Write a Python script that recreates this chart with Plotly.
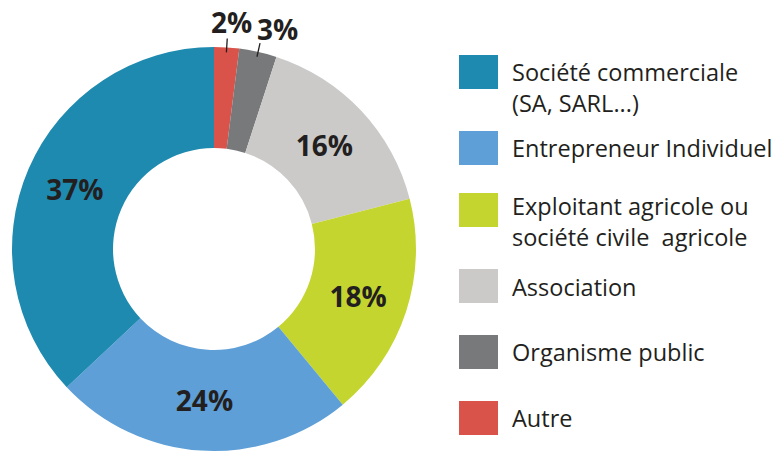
import math
import plotly.graph_objects as go

labels = ["Société commerciale<br>(SA, SARL...)", "Entrepreneur Individuel",
          "Exploitant agricole ou<br>société civile  agricole", "Association",
          "Organisme public", "Autre"]
values = [37, 24, 18, 16, 3, 2]
colors = ["#1f8aaf", "#5d9fd6", "#c5d52f", "#cbcac9", "#78797b", "#d9534b"]
outside = [False, False, False, False, True, True]

W, H = 780, 452
OFF = 8  # page body margin offset
cx, cy, R = 214 - OFF, 249 - OFF, 202
TXT = "#231f20"

fig = go.Figure(go.Pie(
    labels=labels[::-1], values=values[::-1], sort=False, direction="clockwise",
    rotation=0, hole=0.5, automargin=False,
    marker=dict(colors=colors[::-1], line=dict(width=0)),
    textposition=["none" if o else "inside" for o in outside[::-1]],
    texttemplate="%{value}%",
    insidetextorientation="horizontal",
    textfont=dict(family="Open Sans", size=28, color=TXT, weight="bold"),
    showlegend=False,
    domain=dict(x=[(cx - R) / W, (cx + R) / W],
                y=[(H - cy - R) / H, (H - cy + R) / H]),
))

shapes, annots = [], []

# outside labels for the small slices (clockwise from 12 o'clock)
total = sum(values)
cum = 0.0
label_place = {"Autre": (0.8, 25.5), "Organisme public": (3.6, 27)}
for lab, v, o in zip(labels[::-1], values[::-1], outside[::-1]):
    mid = (cum + v / 2) / total * 360.0
    cum += v
    if not o:
        continue
    t = math.radians(mid)
    x1, y1 = cx + (R - 5) * math.sin(t), cy - (R - 5) * math.cos(t)
    x2, y2 = cx + (R + 9) * math.sin(t), cy - (R + 9) * math.cos(t)
    shapes.append(dict(type="line", xref="paper", yref="paper",
                       x0=x1 / W, y0=1 - y1 / H, x1=x2 / W, y1=1 - y2 / H,
                       line=dict(color=TXT, width=1.3)))
    da, dr = label_place[lab]
    ta = math.radians(mid + da)
    lx, ly = cx + (R + dr) * math.sin(ta), cy - (R + dr) * math.cos(ta)
    annots.append(dict(xref="paper", yref="paper", x=lx / W, y=1 - ly / H,
                       xanchor="center", yanchor="middle", showarrow=False,
                       text=f"{v}%",
                       font=dict(family="Open Sans", size=28, color=TXT,
                                 weight="bold")))

# custom legend
sq_x0, sq_x1 = 459 - OFF, 498 - OFF
sq_centers = [72, 148, 210, 286, 352, 418]
text_centers = [87, 148, 221, 287, 352, 418]
for lab, col, sc, tc in zip(labels, colors, sq_centers, text_centers):
    sc -= OFF
    tc -= OFF
    shapes.append(dict(type="rect", xref="paper", yref="paper",
                       x0=sq_x0 / W, x1=sq_x1 / W,
                       y0=1 - (sc + 17) / H, y1=1 - (sc - 17) / H,
                       fillcolor=col, line=dict(width=0)))
    annots.append(dict(xref="paper", yref="paper", x=(510 - OFF) / W, y=1 - tc / H,
                       xanchor="left", yanchor="middle", align="left",
                       text=lab, showarrow=False,
                       font=dict(family="Open Sans", size=23.5, color=TXT)))

fig.update_layout(width=W, height=H,
                  margin=dict(l=0, r=0, t=0, b=0, autoexpand=False),
                  paper_bgcolor="white", plot_bgcolor="white",
                  shapes=shapes, annotations=annots)
fig.write_html("out.html")
